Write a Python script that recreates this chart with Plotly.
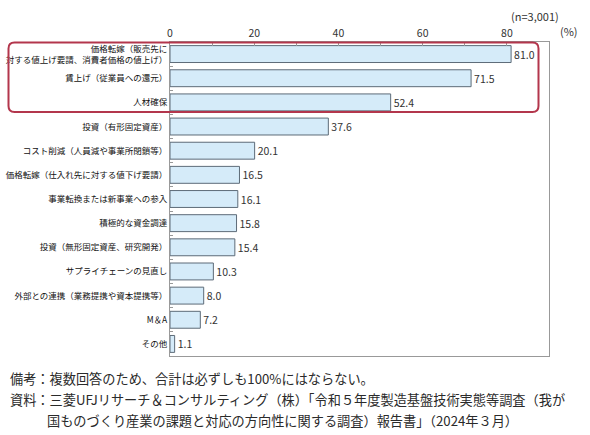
import plotly.graph_objects as go

categories = [
    "価格転嫁（販売先に<br>対する値上げ要請、消費者価格の値上げ）",
    "賃上げ（従業員への還元）",
    "人材確保",
    "投資（有形固定資産）",
    "コスト削減（人員減や事業所閉鎖等）",
    "価格転嫁（仕入れ先に対する値下げ要請）",
    "事業転換または新事業への参入",
    "積極的な資金調達",
    "投資（無形固定資産、研究開発）",
    "サプライチェーンの見直し",
    "外部との連携（業務提携や資本提携等）",
    "M＆A",
    "その他",
]
values = [81.0, 71.5, 52.4, 37.6, 20.1, 16.5, 16.1, 15.8, 15.4, 10.3, 8.0, 7.2, 1.1]
x_ticks = [0, 20, 40, 60, 80]
note_lines = [
    "備考：複数回答のため、合計は必ずしも100%にはならない。",
    "資料：三菱UFJリサーチ＆コンサルティング（株）「令和５年度製造基盤技術実態等調査（我が",
    "国ものづくり産業の課題と対応の方向性に関する調査）報告書」（2024年３月）",
]

W, H = 590, 435
ML, MR, MT, MB = 170, 41, 42, 79
PW, PH = W - ML - MR, H - MT - MB
FONT = "Noto Sans CJK JP"

def px(x):
    return (x - ML) / PW

def py(y):
    return 1 - (y - MT) / PH

fig = go.Figure()
fig.add_trace(go.Bar(
    x=values, y=categories, orientation="h",
    marker=dict(color="#d5ebf9", line=dict(color="#5d6b78", width=1)),
    width=0.7,
    text=[f"{v:.1f}" for v in values],
    textposition="outside",
    textfont=dict(size=10.5, color="#333333", family=FONT),
    cliponaxis=False,
    hoverinfo="skip",
))

# rounded red rectangle around top three items
x0, x1 = px(8.5), px(538.5)
y0, y1 = py(42.5), py(112)
rx, ry = 6 / PW, 6 / PH
path = (
    f"M {x0+rx},{y0} L {x1-rx},{y0} Q {x1},{y0} {x1},{y0-ry} "
    f"L {x1},{y1+ry} Q {x1},{y1} {x1-rx},{y1} "
    f"L {x0+rx},{y1} Q {x0},{y1} {x0},{y1+ry} "
    f"L {x0},{y0-ry} Q {x0},{y0} {x0+rx},{y0} Z"
)
fig.add_shape(type="path", path=path, xref="paper", yref="paper",
              line=dict(color="#b3364c", width=2), layer="above")

annotations = [
    dict(text="(n=3,001)", x=px(535), y=py(16), xref="paper", yref="paper",
         xanchor="center", yanchor="middle",
         showarrow=False, font=dict(size=11, color="#333333", family=FONT)),
    dict(text="(%)", x=px(569), y=py(31), xref="paper", yref="paper",
         xanchor="center", yanchor="middle",
         showarrow=False, font=dict(size=11, color="#333333", family=FONT)),
]
note_pos = [(8, 378), (8, 399), (45, 420)]
for t, (nx, ny) in zip(note_lines, note_pos):
    annotations.append(dict(text=t, x=px(nx), y=py(ny), xref="paper", yref="paper",
                            xanchor="left", yanchor="middle", showarrow=False,
                            font=dict(size=13.2, color="#2a2a2a", family=FONT)))

fig.update_layout(
    width=W, height=H,
    margin=dict(l=ML, r=MR, t=MT, b=MB, autoexpand=False),
    paper_bgcolor="white", plot_bgcolor="white",
    showlegend=False,
    bargap=0.3,
    font=dict(family=FONT, color="#222222"),
    annotations=annotations,
    xaxis=dict(
        side="top", range=[0, 90], tickvals=x_ticks,
        ticks="inside", ticklen=4, tickcolor="#999999",
        minor=dict(dtick=10, tick0=0, ticks="inside", ticklen=4, tickcolor="#999999"),
        showgrid=False, zeroline=False,
        showline=True, linecolor="#999999", linewidth=1, mirror=True,
        tickfont=dict(size=10.5, color="#333333", family=FONT),
        automargin=False, fixedrange=True,
    ),
    yaxis=dict(
        autorange="reversed", type="category",
        tickson="boundaries", ticks="inside", ticklen=3, tickcolor="#999999",
        showgrid=False, zeroline=False,
        showline=True, linecolor="#999999", linewidth=1, mirror=True,
        tickfont=dict(size=8.5, color="#111111", family=FONT),
        automargin=False, fixedrange=True,
    ),
)

fig.write_html(
    "out.html",
    config={"displayModeBar": False},
    post_script="document.body.style.margin='0';document.body.style.overflow='hidden';",
)
